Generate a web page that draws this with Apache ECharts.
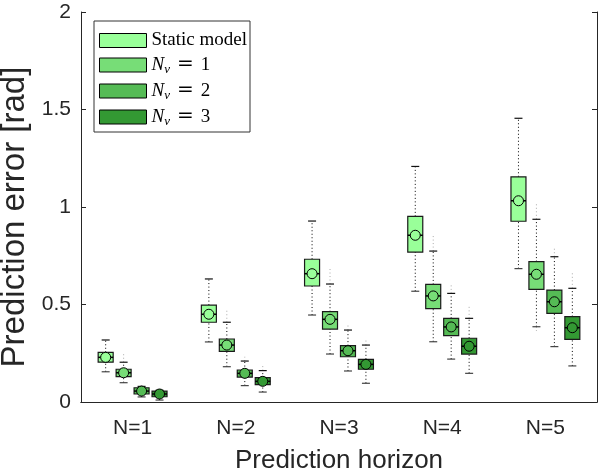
<!DOCTYPE html>
<html>
<head>
<meta charset="utf-8">
<script src="https://cdn.jsdelivr.net/npm/echarts@6/dist/echarts.min.js"></script>
<style>html,body{margin:0;padding:0;background:#fff;}#c{width:598px;height:476px;}</style>
</head>
<body>
<div id="c"></div>
<script>
// Categories (prediction horizon)
const categories = ['N=1', 'N=2', 'N=3', 'N=4', 'N=5'];
const seriesNames = ['Static model', 'N_v = 1', 'N_v = 2', 'N_v = 3'];
const yTickLabels = ['0', '0.5', '1', '1.5', '2'];
// each row: [extLow, whiskerLow, q1, median, q3, whiskerHigh, extHigh]
const staticModel = [
  [0.155, 0.155, 0.204, 0.229, 0.255, 0.318, 0.318],
  [0.308, 0.308, 0.409, 0.450, 0.497, 0.631, 0.631],
  [0.446, 0.446, 0.595, 0.658, 0.732, 0.928, 0.928],
  [0.568, 0.568, 0.769, 0.855, 0.952, 1.208, 1.208],
  [0.684, 0.684, 0.927, 1.032, 1.155, 1.455, 1.455]
];
const nv1 = [
  [0.099, 0.099, 0.130, 0.150, 0.168, 0.204, 0.245],
  [0.181, 0.181, 0.260, 0.292, 0.323, 0.409, 0.477],
  [0.246, 0.246, 0.374, 0.424, 0.463, 0.605, 0.682],
  [0.309, 0.309, 0.479, 0.544, 0.603, 0.774, 0.856],
  [0.364, 0.386, 0.578, 0.655, 0.720, 0.937, 1.019]
];
const nv2 = [
  [0.026, 0.026, 0.041, 0.056, 0.073, 0.080, 0.087],
  [0.084, 0.084, 0.128, 0.147, 0.164, 0.210, 0.232],
  [0.159, 0.159, 0.232, 0.263, 0.289, 0.369, 0.398],
  [0.220, 0.220, 0.340, 0.385, 0.429, 0.557, 0.600],
  [0.284, 0.284, 0.455, 0.514, 0.574, 0.745, 0.797]
];
const nv3 = [
  [0.010, 0.010, 0.027, 0.041, 0.056, 0.060, 0.060],
  [0.051, 0.051, 0.089, 0.106, 0.125, 0.161, 0.185],
  [0.096, 0.096, 0.168, 0.193, 0.219, 0.292, 0.327],
  [0.147, 0.147, 0.246, 0.286, 0.327, 0.429, 0.489],
  [0.185, 0.185, 0.321, 0.381, 0.438, 0.583, 0.663]
];
const allData = [staticModel, nv1, nv2, nv3];
const colors = ['#99ff99', '#77dd77', '#55bb55', '#339933'];
const offsets = [-0.261, -0.087, 0.087, 0.261];

function makeRender(si) {
  return function (params, api) {
    const idx = api.value(0);
    const v = [1,2,3,4,5,6,7].map(k => api.value(k));
    const band = api.size([1, 0])[0];
    const cx = api.coord([idx, 0])[0] + offsets[si] * band;
    const y = val => api.coord([idx, val])[1];
    const bw = 15, cw = 8, r = 5;
    const dash = { stroke: '#000', lineWidth: 1, lineDash: [1, 2.5] };
    const faint = { stroke: '#aaa', lineWidth: 1, lineDash: [1, 2.5] };
    const children = [];
    if (v[6] > v[5]) children.push({ type: 'line', shape: { x1: cx, y1: y(v[5]), x2: cx, y2: y(v[6]) }, style: faint });
    if (v[0] < v[1]) children.push({ type: 'line', shape: { x1: cx, y1: y(v[1]), x2: cx, y2: y(v[0]) }, style: faint });
    children.push({ type: 'line', shape: { x1: cx, y1: y(v[4]), x2: cx, y2: y(v[5]) }, style: dash });
    children.push({ type: 'line', shape: { x1: cx, y1: y(v[1]), x2: cx, y2: y(v[2]) }, style: dash });
    children.push({ type: 'line', shape: { x1: cx - cw / 2, y1: y(v[5]), x2: cx + cw / 2, y2: y(v[5]) }, style: { stroke: '#111', lineWidth: 1.2 } });
    children.push({ type: 'line', shape: { x1: cx - cw / 2, y1: y(v[1]), x2: cx + cw / 2, y2: y(v[1]) }, style: { stroke: '#444', lineWidth: 1.2 } });
    const yt = y(v[4]), yb = y(v[2]);
    children.push({ type: 'rect', shape: { x: cx - bw / 2, y: yt, width: bw, height: yb - yt }, style: { fill: colors[si], stroke: '#1a1a1a', lineWidth: 1.2 } });
    const ym = y(v[3]);
    children.push({ type: 'line', shape: { x1: cx - bw / 2, y1: ym, x2: cx + bw / 2, y2: ym }, style: { stroke: '#000', lineWidth: 1.5 } });
    children.push({ type: 'circle', shape: { cx: cx, cy: ym, r: r }, style: { fill: colors[si], stroke: '#000', lineWidth: 1 } });
    return { type: 'group', children: children };
  };
}

const series = allData.map((arr, si) => ({
  name: seriesNames[si],
  type: 'custom',
  renderItem: makeRender(si),
  encode: { x: 0, y: [1, 2, 3, 4, 5, 6, 7] },
  itemStyle: { color: colors[si], borderColor: '#000', borderWidth: 1 },
  data: arr.map((row, i) => [i].concat(row)),
  z: 2
}));

const axisColor = '#262626';
const sans = '"Liberation Sans", Arial, Helvetica, sans-serif';
const serif = '"Liberation Serif", "DejaVu Serif", serif';

const chart = echarts.init(document.getElementById('c'), null, { renderer: 'canvas' });
chart.setOption({
  animation: false,
  backgroundColor: '#fff',
  grid: { left: 81, right: 1, top: 12, bottom: 74, containLabel: false, outerBoundsMode: 'none' },
  legend: {
    orient: 'vertical',
    left: 94, top: 21,
    padding: [10, 3, 4, 5],
    itemWidth: 47, itemHeight: 14, itemGap: 4,
    borderColor: '#333', borderWidth: 1, backgroundColor: '#fff',
    data: seriesNames.map((n, i) => ({ name: n, icon: 'rect', itemStyle: { color: colors[i], borderColor: '#000', borderWidth: 1 } })),
    formatter: function (name) {
      if (name.indexOf('N_v') === 0) {
        return '{i|N}{s|v}{e|=}{n|' + name.slice(6) + '}';
      }
      return '{n|' + name + '}';
    },
    textStyle: {
      fontFamily: serif, fontSize: 19, color: '#000', lineHeight: 14,
      rich: {
        n: { fontFamily: serif, fontSize: 19, color: '#000', lineHeight: 14 },
        i: { fontFamily: serif, fontSize: 19, fontStyle: 'italic', color: '#000', lineHeight: 14 },
        s: { fontFamily: serif, fontSize: 13, fontStyle: 'italic', color: '#000', lineHeight: 14, padding: [9, 0, 0, 0] },
        e: { fontFamily: '"DejaVu Serif", serif', fontSize: 20, color: '#000', lineHeight: 14, padding: [0, 7, 0, 7] }
      }
    }
  },
  xAxis: [{
    type: 'category', data: categories, position: 'bottom',
    axisLine: { lineStyle: { color: axisColor, width: 1 } },
    axisTick: { inside: true, alignWithLabel: true, length: 5, lineStyle: { color: axisColor } },
    axisLabel: { fontSize: 21, margin: 16, color: axisColor, fontFamily: sans },
    name: 'Prediction horizon', nameLocation: 'middle', nameGap: 46,
    nameTextStyle: { fontSize: 26, color: axisColor, fontFamily: sans },
    splitLine: { show: false }
  }, {
    type: 'category', data: categories, position: 'top',
    axisLine: { lineStyle: { color: axisColor, width: 1 } },
    axisTick: { inside: true, alignWithLabel: true, length: 5, lineStyle: { color: axisColor } },
    axisLabel: { show: false }, splitLine: { show: false }
  }],
  yAxis: [{
    type: 'value', min: 0, max: 2, interval: 0.5, position: 'left',
    axisLine: { show: true, lineStyle: { color: axisColor, width: 1 } },
    axisTick: { show: true, inside: true, length: 5, lineStyle: { color: axisColor } },
    axisLabel: { fontSize: 21, margin: 10, color: axisColor, fontFamily: sans,
      formatter: (val) => yTickLabels[Math.round(val / 0.5)] },
    splitLine: { show: false },
    name: 'Prediction error [rad]', nameLocation: 'middle', nameGap: 41,
    nameTextStyle: { fontSize: 33, color: axisColor, fontFamily: sans, padding: [0, 20, 0, 0] }
  }, {
    type: 'value', min: 0, max: 2, interval: 0.5, position: 'right',
    axisLine: { show: true, lineStyle: { color: axisColor, width: 1 } },
    axisTick: { show: true, inside: true, length: 5, lineStyle: { color: axisColor } },
    axisLabel: { show: false }, splitLine: { show: false }
  }],
  series: series
});
</script>
</body>
</html>
